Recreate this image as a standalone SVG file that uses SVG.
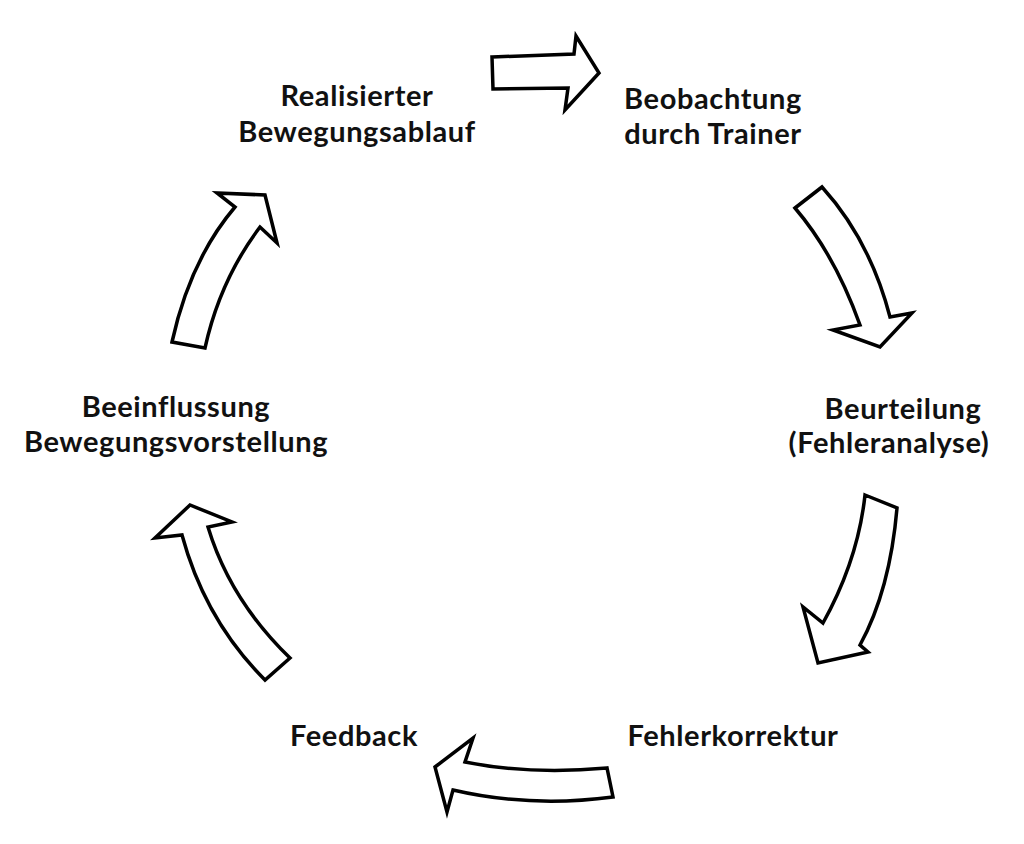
<svg xmlns="http://www.w3.org/2000/svg" width="1024" height="844" viewBox="0 0 1024 844">
<style>
.a{fill:#fff;stroke:#000;stroke-width:3.5;stroke-linejoin:miter}
text{font-family:Lato,"Open Sans","Liberation Sans",sans-serif;font-weight:bold;font-size:29px;letter-spacing:0.6px;text-anchor:middle;fill:#111}
</style>
<rect width="1024" height="844" fill="#fff"/>
<g id="connectors">
<path class="a" d="M492,57 L574,54 L576,36 L599,73 L565,110 L568,88 L493,89 Z"/>
<path class="a" d="M795,208 L822,187 Q870,240 890,317 L912,313 L880,347 L833,330 L860,325 Q835,255 795,208 Z"/>
<path class="a" d="M865,495 L897,508 Q890,590 860,645 L868,652 L818,663 L803,607 L823,623 Q858,560 865,495 Z"/>
<path class="a" d="M435,767 L473,738 L465,762 Q530,775 607,768 L613,797 Q530,808 453,790 L447,812 Z"/>
<path class="a" d="M265,680 Q205,620 182,535 L155,538 L190,505 L232,522 L208,527 Q230,600 290,658 Z"/>
<path class="a" d="M172,342 Q190,260 235,207 L217,193 L265,195 L277,243 L260,227 Q220,280 205,348 Z"/>
</g>
<g id="n1"><text x="357" y="106">Realisierter</text><text x="357" y="142">Bewegungsablauf</text></g>
<g id="n2"><text x="713" y="109">Beobachtung</text><text x="713" y="144">durch Trainer</text></g>
<g id="n3"><text x="903" y="419">Beurteilung</text><text x="889" y="453">(Fehleranalyse)</text></g>
<g id="n4"><text x="733" y="746">Fehlerkorrektur</text></g>
<g id="n5"><text x="354" y="746">Feedback</text></g>
<g id="n6"><text x="176" y="417">Beeinflussung</text><text x="176" y="452">Bewegungsvorstellung</text></g>
</svg>
